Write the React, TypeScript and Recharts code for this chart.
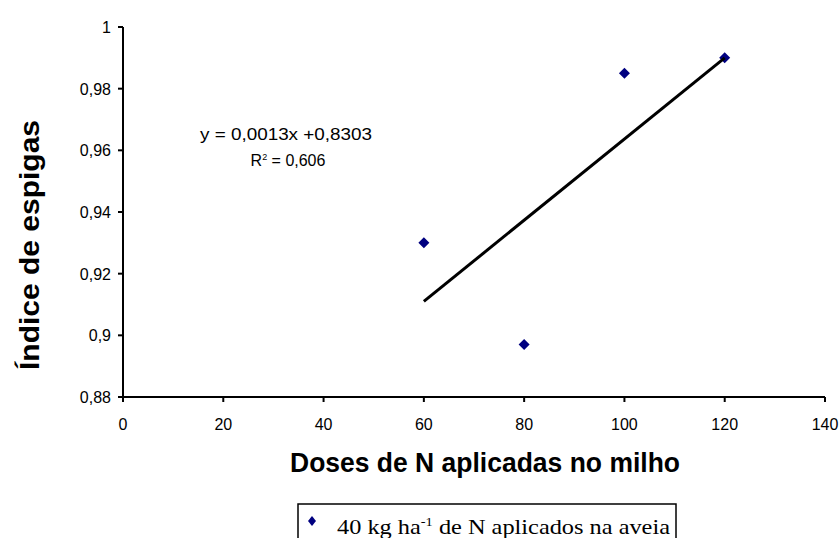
import { ScatterChart, Scatter, XAxis, YAxis } from 'recharts';

const doses = [60, 80, 100, 120];
const indice = [0.93, 0.897, 0.985, 0.99];

// linear trend end points
const trendDoses = [60, 120];
const trendIndice = [0.911, 0.99];

const xTicks = [0, 20, 40, 60, 80, 100, 120, 140];
const yTicks = [0.88, 0.9, 0.92, 0.94, 0.96, 0.98, 1];

const equation = 'y = 0,0013x +0,8303';
const rSquared = '0,606';

const points = doses.map((d, i) => ({ x: d, y: indice[i] }));
const trend = trendDoses.map((d, i) => ({ x: d, y: trendIndice[i] }));

const sans = "'Liberation Sans', Arial, sans-serif";
const serif = "'Liberation Serif', 'Times New Roman', serif";

const fmt = (v: number) => String(Math.round(v * 100) / 100).replace('.', ',');

const Diamond = (props: any) => {
  const { cx, cy } = props;
  if (cx == null || cy == null) return null;
  const r = 5.5;
  return <path d={`M${cx} ${cy - r}L${cx + r} ${cy}L${cx} ${cy + r}L${cx - r} ${cy}Z`} fill="#000080" />;
};

const XTick = (props: any) => {
  const { x, y, payload } = props;
  return (
    <text x={x} y={y + 26} textAnchor="middle" style={{ fontFamily: sans, fontSize: 16, fill: '#000' }}>
      {payload.value}
    </text>
  );
};

const YTick = (props: any) => {
  const { x, y, payload } = props;
  return (
    <text x={x - 5} y={y + 6} textAnchor="end" style={{ fontFamily: sans, fontSize: 16, fill: '#000' }}>
      {fmt(payload.value)}
    </text>
  );
};

function LegendBox() {
  return (
    <svg width={380} height={40} style={{ position: 'absolute', left: 297, top: 503 }}>
      <rect x={1} y={1} width={378} height={50} fill="#fff" stroke="#000" strokeWidth={1.5} />
      <path d="M15 13 L19 18 L15 23 L11 18 Z" fill="#000080" />
      <text x={40} y={31} textLength={333} lengthAdjust="spacingAndGlyphs" style={{ fontFamily: serif, fontSize: 22, fill: '#000' }}>
        40 kg ha<tspan dy={-8} fontSize={13}>-1</tspan>
        <tspan dy={8}> de N aplicados na aveia</tspan>
      </text>
    </svg>
  );
}

export default function App() {
  return (
    <div style={{ position: 'absolute', left: 0, top: 0, width: 839, height: 538, background: '#fff', overflow: 'hidden' }}>
      <ScatterChart width={839} height={538} margin={{ top: 27, right: 14, bottom: 111, left: 63 }}>
        <XAxis
          type="number"
          dataKey="x"
          domain={[0, 140]}
          ticks={xTicks}
          interval={0}
          height={30}
          stroke="#000"
          strokeWidth={2}
          tickSize={5}
          tick={<XTick />}
          label={{
            content: () => (
              <text
                x={485}
                y={472}
                textAnchor="middle"
                textLength={390}
                lengthAdjust="spacingAndGlyphs"
                style={{ fontFamily: sans, fontWeight: 'bold', fontSize: 27, fill: '#000' }}
              >
                Doses de N aplicadas no milho
              </text>
            ),
          }}
        />
        <YAxis
          type="number"
          dataKey="y"
          domain={[0.88, 1]}
          ticks={yTicks}
          interval={0}
          width={60}
          stroke="#000"
          strokeWidth={2}
          tickSize={5}
          tick={<YTick />}
          label={{
            content: () => (
              <text
                x={39}
                y={245}
                transform="rotate(-90 39 245)"
                textAnchor="middle"
                textLength={250}
                lengthAdjust="spacingAndGlyphs"
                style={{ fontFamily: sans, fontWeight: 'bold', fontSize: 27, fill: '#000' }}
              >
                Índice de espigas
              </text>
            ),
          }}
        />
        <Scatter
          name="40 kg ha-1 de N aplicados na aveia"
          data={points}
          shape={<Diamond />}
          isAnimationActive={false}
        />
        <Scatter
          name="trend"
          data={trend}
          line={{ stroke: '#000', strokeWidth: 3 }}
          shape={() => null}
          legendType="none"
          isAnimationActive={false}
        />
        <text x={286} y={140} textAnchor="middle" textLength={172} lengthAdjust="spacingAndGlyphs" style={{ fontFamily: sans, fontSize: 16, fill: '#000' }}>
          {equation}
        </text>
        <text x={288} y={166} textAnchor="middle" style={{ fontFamily: sans, fontSize: 16, fill: '#000' }}>
          R<tspan dy={-6} fontSize={9}>2</tspan>
          <tspan dy={6}> = {rSquared}</tspan>
        </text>
      </ScatterChart>
      <LegendBox />
    </div>
  );
}
